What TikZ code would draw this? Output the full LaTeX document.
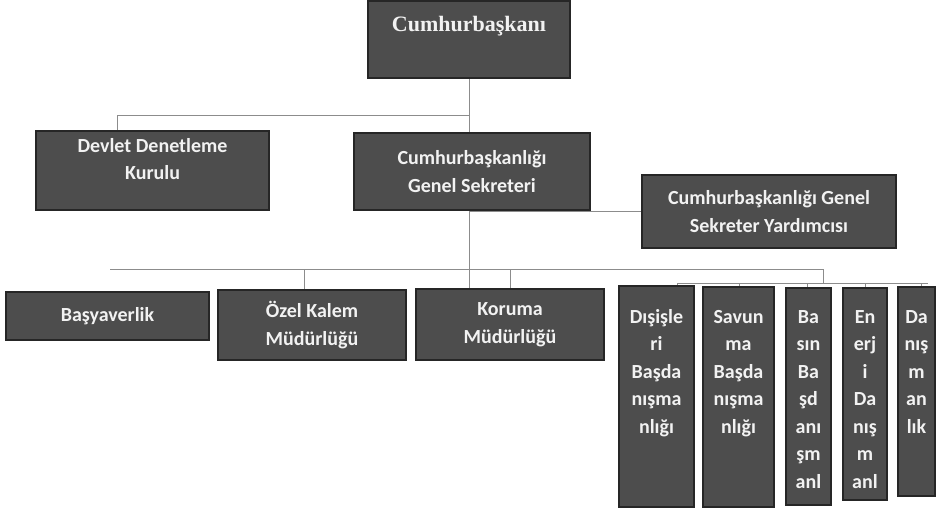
\documentclass[tikz,border=0pt]{standalone}
\usepackage{fontspec}
\setmainfont{Carlito}
\newfontfamily\headfont{Liberation Serif}
\usepackage{tikz}
\usetikzlibrary{backgrounds}
\definecolor{boxgray}{RGB}{77,77,77}
\definecolor{boxedge}{RGB}{38,38,38}
\definecolor{linegray}{RGB}{140,140,140}
\definecolor{txtwhite}{RGB}{242,242,242}

\begin{document}
\begin{tikzpicture}[x=1pt,y=-1pt,
    unit/.style={draw=boxedge,line width=1.3pt,fill=boxgray,text=txtwhite,
      inner sep=0pt,align=center,font=\bfseries\fontsize{20}{27.5}\selectfont},
    txt/.style={text=txtwhite,inner sep=0pt,align=center,anchor=north,
      font=\bfseries\fontsize{20}{27.5}\selectfont},
    link/.style={draw=linegray,line width=1pt}]
      \useasboundingbox (0,0) rectangle (938,510);
      % Cumhurbaskani
      \node[unit,minimum width=202,minimum height=77] (cb) at (469,39.5) {};
      \node[txt,anchor=base,font=\headfont\bfseries\fontsize{22}{26}\selectfont]
        (cbt) at (469,32) {Cumhurbaşkanı};
      % second level
      \node[unit,minimum width=233,minimum height=79] (ddk) at (152.5,170.5) {};
      \node[txt] (ddkt) at (152.5,132.75) {\strut Devlet Denetleme\\Kurulu};
      \node[unit,minimum width=236,minimum height=77] (cgs) at (472,171.5)
        {Cumhurbaşkanlığı\\Genel Sekreteri};
      \node[unit,minimum width=254,minimum height=73] (gsy) at (769,211.5)
        {Cumhurbaşkanlığı Genel\\Sekreter Yardımcısı};
      % third level
      \node[unit,minimum width=203,minimum height=48] (bsy) at (107.5,316) {Başyaverlik};
      \node[unit,minimum width=188,minimum height=70] (ozel) at (312,325)
        {Özel Kalem\\Müdürlüğü};
      \node[unit,minimum width=188,minimum height=71] (kor) at (510,324.5)
        {Koruma\\Müdürlüğü};
      % advisors
      \foreach \n/\cx/\cy/\w/\h/\lines in {dis/656.5/396.5/75/221/{Dışişle\\ri\\Başda\\nışma\\nlığı},
                                          sav/738.5/397/71/220/{Savun\\ma\\Başda\\nışma\\nlığı},
                                          bas/808.5/396.5/45/217/{Ba\\sın\\Ba\\şd\\anı\\şm\\anl},
                                          ene/865/394/44/212/{En\\erj\\i\\Da\\nış\\m\\anl},
                                          dan/916.5/391.5/37/209/{Da\\nış\\m\\an\\lık}}
      {
        \node[unit,minimum width=\w,minimum height=\h] (\n) at (\cx,\cy) {};
        \node[txt] (\n-t) at (\cx,303.75) {\strut\lines};
      };
      % connectors
      \begin{scope}[on background layer]
        \coordinate (top) at (469,116);
        \coordinate (row) at (110,270);
        \coordinate (sub) at (823,284);
        \coordinate (subl) at (677,284);
        \coordinate (subr) at (928,284);
        \draw[link] (cb.south) -- (top) -| ([xshift=-35.5pt]ddk.north);
        \draw[link] (top) -- (top |- kor.north);
        \draw[link] (gsy.west) -- (gsy.west -| top);
        \draw[link] (row) -- (row -| sub) -- (sub);
        \draw[link] ([xshift=-8pt]ozel.north) -- ([xshift=-8pt]ozel.north |- row);
        \draw[link] (kor.north) -- (kor.north |- row);
        \draw[link] (subl) -- (subr);
        \foreach \n/\dx in {dis/20.5,sav/0.5,bas/-1.5,ene/0,dan/4.5}
          \draw[link] ([xshift=\dx pt]\n.north) -- ([xshift=\dx pt]\n.north |- subl);
      \end{scope}
    \end{tikzpicture}
\end{document}
